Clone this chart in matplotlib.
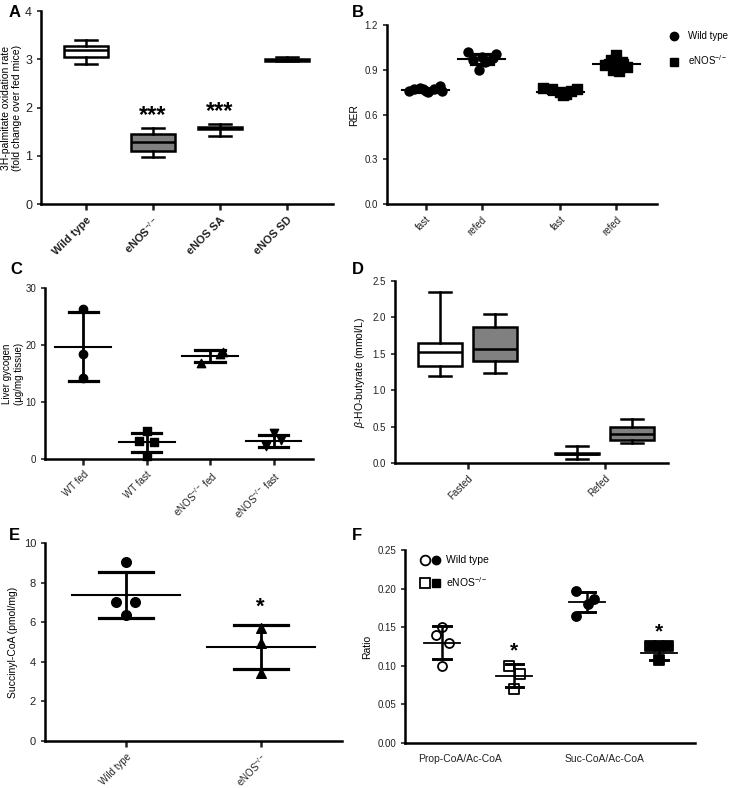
import numpy as np
import matplotlib.pyplot as plt
from matplotlib.lines import Line2D
from matplotlib.legend_handler import HandlerTuple

plt.rcParams['font.family'] = ['Liberation Sans', 'DejaVu Sans']
plt.rcParams['mathtext.fontset'] = 'custom'
plt.rcParams['mathtext.rm'] = 'Liberation Sans'
plt.rcParams['mathtext.it'] = 'Liberation Sans:italic'
plt.rcParams['mathtext.bf'] = 'Liberation Sans:bold'
plt.rcParams['font.size'] = 7
plt.rcParams['axes.linewidth'] = 1.8
plt.rcParams['xtick.major.width'] = 1.8
plt.rcParams['ytick.major.width'] = 1.2
plt.rcParams['xtick.major.size'] = 4
plt.rcParams['ytick.major.size'] = 3
plt.rcParams['xtick.color'] = '#222222'
plt.rcParams['ytick.color'] = '#222222'

KO = r'eNOS$^{-/-}$'

# ---- panel A : box plots
a_labels = ['Wild type', KO, 'eNOS SA', 'eNOS SD']
a_whislo = [2.90, 0.97, 1.42, 2.96]
a_q1 = [3.05, 1.10, 1.55, 2.96]
a_med = [3.20, 1.28, 1.58, 2.98]
a_q3 = [3.27, 1.45, 1.60, 3.00]
a_whishi = [3.40, 1.58, 1.65, 3.05]
a_fill = ['white', '#808080', '#808080', '#808080']
a_stars = ['', '***', '***', '']

# ---- panel B : RER
b_labels = ['fast', 'refed', 'fast', 'refed']
b_pos = [0, 1, 2.4, 3.4]
b_points = [[0.76, 0.77, 0.78, 0.76, 0.75, 0.77, 0.79, 0.76, 0.77],
            [1.02, 1.01, 0.99, 0.97, 0.96, 0.98, 0.95, 0.90],
            [0.78, 0.77, 0.75, 0.74, 0.73, 0.76, 0.77],
            [1.00, 0.97, 0.95, 0.93, 0.92, 0.90, 0.89, 0.94]]
b_offsets = [[-0.3, -0.2, -0.1, 0.0, 0.05, 0.15, 0.25, 0.3, -0.05],
             [-0.25, 0.25, 0.0, -0.15, 0.1, 0.2, 0.05, -0.05],
             [-0.3, -0.15, 0.0, 0.1, 0.05, 0.2, 0.3],
             [0.0, -0.1, 0.1, -0.2, 0.2, -0.05, 0.05, 0.0]]
b_mean = [0.765, 0.975, 0.755, 0.94]
b_sd = [0.010, 0.035, 0.015, 0.03]
b_marker = ['o', 'o', 's', 's']

# ---- panel C : liver glycogen
c_labels = ['WT fed', 'WT fast', KO + ' fed', KO + ' fast']
c_points = [[26.3, 18.4, 14.3], [4.9, 3.1, 3.0, 0.6], [18.7, 18.5, 16.8], [4.6, 3.3, 2.2]]
c_offsets = [[0, 0, 0], [0, -0.12, 0.12, 0], [0.2, 0.15, -0.15], [0, 0.12, -0.12]]
c_mean = [19.7, 2.9, 18.0, 3.2]
c_sd = [6.1, 1.7, 1.05, 1.05]
c_marker = ['o', 's', '^', 'v']

# ---- panel D : beta-HO-butyrate
d_groups = ['Fasted', 'Refed']
d_whislo = [[1.19, 1.23], [0.06, 0.28]]
d_q1 = [[1.33, 1.40], [0.12, 0.32]]
d_med = [[1.52, 1.57], [0.13, 0.40]]
d_q3 = [[1.65, 1.87], [0.14, 0.49]]
d_whishi = [[2.35, 2.05], [0.23, 0.60]]
d_fill = ['white', '#808080']

# ---- panel E : succinyl-CoA
e_labels = ['Wild type', KO]
e_points = [[9.05, 7.0, 7.0, 6.35], [5.7, 4.95, 3.45]]
e_offsets = [[0, -0.07, 0.07, 0], [0, 0, 0]]
e_mean = [7.37, 4.75]
e_sd = [1.18, 1.13]
e_marker = ['o', '^']

# ---- panel F : ratios
f_groups = ['Prop-CoA/Ac-CoA', 'Suc-CoA/Ac-CoA']
f_points = [[0.150, 0.140, 0.130, 0.100], [0.100, 0.090, 0.070],
            [0.197, 0.186, 0.180, 0.165], [0.125, 0.125, 0.125, 0.108]]
f_offsets = [[0, -0.09, 0.09, 0], [-0.08, 0.08, 0],
             [-0.15, 0.1, 0.02, -0.15], [-0.12, 0.0, 0.12, 0.0]]
f_mean = [0.130, 0.087, 0.182, 0.117]
f_sd = [0.021, 0.015, 0.013, 0.009]
f_marker = ['o', 's', 'o', 's']
f_face = ['white', 'white', 'black', 'black']
f_stars = ['', '*', '', '*']

fig = plt.figure(figsize=(7.38, 7.88), dpi=100)


def mean_sd(ax, x, m, s, half=0.4, cap=0.2, lw=1.5):
    ax.plot([x - half, x + half], [m, m], color='black', lw=lw, zorder=4)
    ax.plot([x, x], [m - s, m + s], color='black', lw=lw + 0.5, zorder=4)
    for yy in (m - s, m + s):
        ax.plot([x - cap, x + cap], [yy, yy], color='black', lw=lw + 0.8, zorder=4)


def style(ax):
    for side in ('top', 'right'):
        ax.spines[side].set_visible(False)


def boxes(ax, pos, lo, q1, med, q3, hi, fills, width, capw, lw=1.8):
    stats = [dict(whislo=lo[i], q1=q1[i], med=med[i], q3=q3[i], whishi=hi[i], fliers=[])
             for i in range(len(pos))]
    bp = ax.bxp(stats, positions=pos, widths=width, capwidths=capw, patch_artist=True,
                showfliers=False, manage_ticks=False,
                boxprops=dict(lw=lw), whiskerprops=dict(lw=lw), capprops=dict(lw=lw),
                medianprops=dict(color='black', lw=lw))
    for patch, c in zip(bp['boxes'], fills):
        patch.set_facecolor(c)
        patch.set_edgecolor('black')


# A
ax = fig.add_axes([0.0556, 0.741, 0.395, 0.245])
style(ax)
xa = np.arange(len(a_labels))
boxes(ax, xa, a_whislo, a_q1, a_med, a_q3, a_whishi, a_fill, 0.66, 0.34)
for i, s in enumerate(a_stars):
    if s:
        ax.text(xa[i], a_whishi[i] + 0.02, s, ha='center', va='bottom', fontsize=17, fontweight='bold')
ax.set_xlim(-0.67, 3.68)
ax.set_ylim(0, 4)
ax.set_yticks([0, 1, 2, 3, 4])
ax.tick_params(axis='y', labelsize=9)
ax.set_xticks(xa)
ax.set_xticklabels(a_labels, rotation=45, ha='right', rotation_mode='anchor', fontweight='bold', fontsize=8)
ax.set_ylabel('3H-palmitate oxidation rate\n(fold change over fed mice)', fontsize=7.5, labelpad=2)
fig.text(0.012, 0.978, 'A', fontsize=12, fontweight='bold')

# B
ax = fig.add_axes([0.5244, 0.741, 0.366, 0.227])
style(ax)
for i in range(4):
    xs = b_pos[i] + np.array(b_offsets[i])
    ax.scatter(xs, b_points[i], marker=b_marker[i], s=42, color='black', zorder=3)
    mean_sd(ax, b_pos[i], b_mean[i], b_sd[i], half=0.42, cap=0.2)
ax.set_xlim(-0.69, 4.13)
ax.set_ylim(0, 1.2)
ax.set_yticks([0, 0.3, 0.6, 0.9, 1.2])
ax.set_yticklabels(['0.0', '0.3', '0.6', '0.9', '1.2'])
ax.set_xticks(b_pos)
ax.set_xticklabels(b_labels, rotation=45, ha='right', rotation_mode='anchor')
ax.set_ylabel('RER', fontsize=7.5)
handles = [Line2D([], [], ls='none', marker='o', color='black', ms=6),
           Line2D([], [], ls='none', marker='s', color='black', ms=6)]
ax.legend(handles, ['Wild type', KO], frameon=False, loc='upper left',
          bbox_to_anchor=(1.02, 1.0), fontsize=7, labelspacing=1.3, handletextpad=0.8,
          handlelength=1.2, borderaxespad=0.2)
fig.text(0.477, 0.978, 'B', fontsize=12, fontweight='bold')

# C
ax = fig.add_axes([0.061, 0.4175, 0.363, 0.217])
style(ax)
xc = np.arange(len(c_labels))
for i in range(4):
    ax.scatter(xc[i] + np.array(c_offsets[i]), c_points[i], marker=c_marker[i], s=36,
               color='black', zorder=3, clip_on=False)
    mean_sd(ax, xc[i], c_mean[i], c_sd[i], half=0.44, cap=0.23)
ax.set_xlim(-0.6, 3.62)
ax.set_ylim(0, 30)
ax.set_yticks([0, 10, 20, 30])
ax.set_xticks(xc)
ax.set_xticklabels(c_labels, rotation=45, ha='right', rotation_mode='anchor')
ax.set_ylabel('Liver gycogen\n(µg/mg tissue)', fontsize=7, labelpad=1)
fig.text(0.014, 0.652, 'C', fontsize=12, fontweight='bold')

# D
ax = fig.add_axes([0.535, 0.4124, 0.37, 0.231])
style(ax)
xd = np.arange(len(d_groups))
for j in range(2):
    pos = [xd[0] + (j - 0.5) * 0.4, xd[1] + (j - 0.5) * 0.4]
    boxes(ax, pos, [r[j] for r in d_whislo], [r[j] for r in d_q1], [r[j] for r in d_med],
          [r[j] for r in d_q3], [r[j] for r in d_whishi], [d_fill[j]] * 2, 0.32, 0.16)
ax.set_xlim(-0.53, 1.46)
ax.set_ylim(0, 2.5)
ax.set_yticks([0, 0.5, 1.0, 1.5, 2.0, 2.5])
ax.set_yticklabels(['0.0', '0.5', '1.0', '1.5', '2.0', '2.5'])
ax.set_xticks(xd)
ax.set_xticklabels(d_groups, rotation=45, ha='right', rotation_mode='anchor')
ax.set_ylabel(r'$\beta$-HO-butyrate (mmol/L)', fontsize=7.5)
fig.text(0.477, 0.652, 'D', fontsize=12, fontweight='bold')

# E
ax = fig.add_axes([0.061, 0.0596, 0.402, 0.2513])
style(ax)
xe = np.arange(len(e_labels))
for i in range(2):
    ax.scatter(xe[i] + np.array(e_offsets[i]), e_points[i], marker=e_marker[i], s=48,
               color='black', zorder=3)
    mean_sd(ax, xe[i], e_mean[i], e_sd[i], half=0.4, cap=0.2)
ax.text(xe[1], e_mean[1] + e_sd[1] + 0.35, '*', ha='center', va='bottom', fontsize=16, fontweight='bold')
ax.set_xlim(-0.6, 1.6)
ax.set_ylim(0, 10)
ax.set_yticks([0, 2, 4, 6, 8, 10])
ax.tick_params(axis='y', labelsize=8)
ax.set_xticks(xe)
ax.set_xticklabels(e_labels, rotation=45, ha='right', rotation_mode='anchor')
ax.set_ylabel('Succinyl-CoA (pmol/mg)', fontsize=7.5)
fig.text(0.012, 0.315, 'E', fontsize=12, fontweight='bold')

# F
ax = fig.add_axes([0.549, 0.0571, 0.393, 0.245])
style(ax)
xf = np.arange(4)
for i in range(4):
    ax.scatter(xf[i] + np.array(f_offsets[i]), f_points[i], marker=f_marker[i], s=42,
               facecolor=f_face[i], edgecolor='black', lw=1.3, zorder=3)
    mean_sd(ax, xf[i], f_mean[i], f_sd[i], half=0.25, cap=0.12, lw=1.3)
    if f_stars[i]:
        ax.text(xf[i], f_mean[i] + f_sd[i] + 0.005, f_stars[i], ha='center', va='bottom',
                fontsize=15, fontweight='bold')
ax.set_xlim(-0.51, 3.5)
ax.set_ylim(0, 0.25)
ax.set_yticks([0, 0.05, 0.10, 0.15, 0.20, 0.25])
ax.set_yticklabels(['0.00', '0.05', '0.10', '0.15', '0.20', '0.25'])
ax.set_xticks([0.25, 2.25])
ax.set_xticklabels(f_groups, fontsize=7.5)
ax.tick_params(axis='x', length=0, pad=8)
ax.set_ylabel('Ratio', fontsize=7.5)
h_wt = (Line2D([], [], ls='none', marker='o', mfc='white', mec='black', ms=7, mew=1.3),
        Line2D([], [], ls='none', marker='o', color='black', ms=6))
h_ko = (Line2D([], [], ls='none', marker='s', mfc='white', mec='black', ms=6.5, mew=1.3),
        Line2D([], [], ls='none', marker='s', color='black', ms=5.5))
ax.legend([h_wt, h_ko], ['Wild type', KO], handler_map={tuple: HandlerTuple(ndivide=None, pad=0.2)},
          frameon=False, loc='upper left', bbox_to_anchor=(0.02, 1.02), fontsize=7.5,
          handlelength=2.0, handletextpad=0.5, labelspacing=0.9)
fig.text(0.477, 0.315, 'F', fontsize=12, fontweight='bold')

fig.savefig('out.png', dpi=100)
